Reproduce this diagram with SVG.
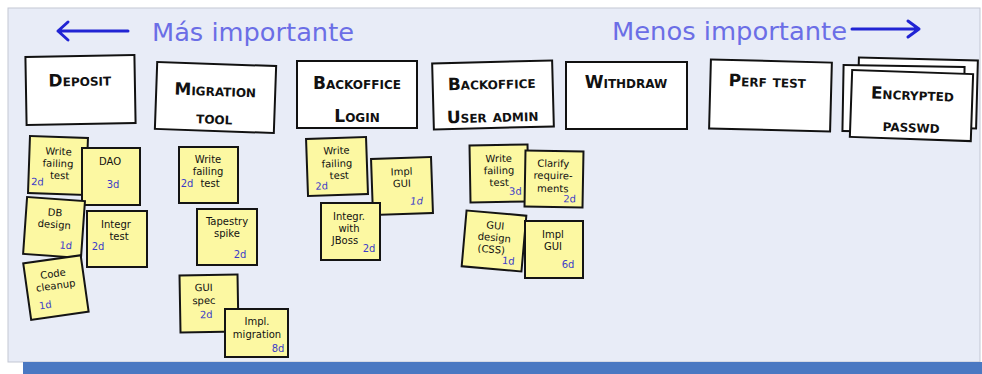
<svg xmlns="http://www.w3.org/2000/svg" width="982" height="374" viewBox="0 0 982 374">
<style>
.panel{fill:#e8ecf7;stroke:#c3c7d3;stroke-width:1}
.bar{fill:#4a78c2}
.card{fill:#ffffff;stroke:#111;stroke-width:2}
.ct{font-family:"DejaVu Sans",sans-serif;font-weight:bold;font-size:17px;font-variant:small-caps;fill:#111;text-anchor:middle}
.head{font-family:"DejaVu Sans",sans-serif;font-size:24px;fill:#6b6ee6}
.arr{fill:none;stroke:#2124d4;stroke-width:3;stroke-linecap:round;stroke-linejoin:round}
.note{fill:#fcf8a2;stroke:#141414;stroke-width:2}
.nt{font-family:"DejaVu Sans",sans-serif;font-size:10px;fill:#111;text-anchor:middle}
.est{font-family:"DejaVu Sans",sans-serif;font-size:10px;fill:#3c3cc8;text-anchor:middle}
</style>
<rect x="0" y="0" width="982" height="374" fill="#ffffff"/>
<rect class="panel" x="8" y="8" width="972" height="354"/>
<rect class="bar" x="23" y="362" width="959" height="12"/>

<g id="header">
<text class="head" x="152" y="41" textLength="202" lengthAdjust="spacingAndGlyphs">Más importante</text>
<text class="head" x="612" y="40" textLength="235" lengthAdjust="spacingAndGlyphs">Menos importante</text>
</g>
<g id="connectors">
<path class="arr" d="M128 31 L58 31 M68 22 L58 31 L68 40"/>
<path class="arr" d="M852 29 L919 29 M908 21 L919 29 L908 37"/>
</g>

<g id="card-deposit" transform="rotate(-1 80 90)">
<rect class="card" x="26" y="56" width="109" height="68"/>
<text class="ct" x="80" y="86">Deposit</text>
</g>
<g id="card-migration" transform="rotate(2 216 98)">
<rect class="card" x="156" y="64" width="119" height="67"/>
<text class="ct" x="215" y="96">Migration</text>
<text class="ct" x="215" y="124">tool</text>
</g>
<g id="card-bo-login">
<rect class="card" x="297" y="61" width="120" height="67"/>
<text class="ct" x="357" y="89">Backoffice</text>
<text class="ct" x="357" y="122">Login</text>
</g>
<g id="card-bo-user" transform="rotate(-1.5 493 95)">
<rect class="card" x="433" y="62" width="120" height="66"/>
<text class="ct" x="492" y="89">Backoffice</text>
<text class="ct" x="492" y="122">User admin</text>
</g>
<g id="card-withdraw">
<rect class="card" x="566" y="62" width="121" height="67"/>
<text class="ct" x="626" y="88">Withdraw</text>
</g>
<g id="card-perf" transform="rotate(1.5 770 95)">
<rect class="card" x="710" y="61" width="121" height="69"/>
<text class="ct" x="767" y="87">Perf test</text>
</g>
<g id="card-encrypted">
<rect class="card" x="858" y="59" width="119" height="68" transform="rotate(1.5 917 93)"/>
<rect class="card" x="843" y="66" width="121" height="66" transform="rotate(1 904 99)"/>
<rect class="card" x="851" y="72" width="121" height="67" transform="rotate(2 911 105)"/>
<text class="ct" x="912" y="100" transform="rotate(2 911 105)">Encrypted</text>
<text class="ct" x="912" y="132" transform="rotate(2 911 105)">passwd</text>
</g>

<g id="note-dep-write" transform="rotate(2 58 165)">
<rect class="note" x="29" y="137" width="58" height="57"/>
<text class="nt" x="58" y="155">Write</text>
<text class="nt" x="58" y="167">failing</text>
<text class="nt" x="60" y="179">test</text>
<text class="est" x="38" y="186">2d</text>
</g>
<g id="note-dep-dao">
<rect class="note" x="82" y="148" width="58" height="57"/>
<text class="nt" x="110" y="165">DAO</text>
<text class="est" x="113" y="188">3d</text>
</g>
<g id="note-dep-db" transform="rotate(4 54 228)">
<rect class="note" x="25" y="199" width="58" height="57"/>
<text class="nt" x="54" y="216">DB</text>
<text class="nt" x="54" y="228">design</text>
<text class="est" x="67" y="248">1d</text>
</g>
<g id="note-dep-integr">
<rect class="note" x="87" y="211" width="60" height="56"/>
<text class="nt" x="116" y="228">Integr</text>
<text class="nt" x="119" y="240">test</text>
<text class="est" x="98" y="250">2d</text>
</g>
<g id="note-dep-code" transform="rotate(-8 56 288)">
<rect class="note" x="27" y="259" width="58" height="57"/>
<text class="nt" x="55" y="277">Code</text>
<text class="nt" x="56" y="289">cleanup</text>
<text class="est" x="43" y="307">1d</text>
</g>

<g id="note-mig-write">
<rect class="note" x="179" y="147" width="59" height="56"/>
<text class="nt" x="208" y="163">Write</text>
<text class="nt" x="208" y="175">failing</text>
<text class="nt" x="210" y="187">test</text>
<text class="est" x="187" y="187">2d</text>
</g>
<g id="note-mig-tapestry">
<rect class="note" x="197" y="209" width="60" height="56"/>
<text class="nt" x="227" y="225">Tapestry</text>
<text class="nt" x="227" y="237">spike</text>
<text class="est" x="240" y="258">2d</text>
</g>
<g id="note-mig-gui" transform="rotate(-1 209 303)">
<rect class="note" x="180" y="275" width="58" height="57"/>
<text class="nt" x="204" y="291">GUI</text>
<text class="nt" x="204" y="304">spec</text>
<text class="est" x="206" y="318">2d</text>
</g>
<g id="note-mig-impl">
<rect class="note" x="225" y="309" width="63" height="48"/>
<text class="nt" x="257" y="325">Impl.</text>
<text class="nt" x="257" y="338">migration</text>
<text class="est" x="278" y="352">8d</text>
</g>

<g id="note-bl-write" transform="rotate(-2 337 166)">
<rect class="note" x="307" y="138" width="60" height="57"/>
<text class="nt" x="337" y="154">Write</text>
<text class="nt" x="337" y="167">failing</text>
<text class="nt" x="339" y="179">test</text>
<text class="est" x="321" y="189">2d</text>
</g>
<g id="note-bl-impl" transform="rotate(-2 402 186)">
<rect class="note" x="372" y="158" width="60" height="56"/>
<text class="nt" x="402" y="175">Impl</text>
<text class="nt" x="402" y="187">GUI</text>
<text class="est" x="416" y="205" font-style="italic">1d</text>
</g>
<g id="note-bl-integr">
<rect class="note" x="321" y="203" width="59" height="57"/>
<text class="nt" x="349" y="220">Integr.</text>
<text class="nt" x="349" y="232">with</text>
<text class="nt" x="345" y="244">JBoss</text>
<text class="est" x="369" y="252">2d</text>
</g>

<g id="note-bua-write" transform="rotate(-1 499 173)">
<rect class="note" x="470" y="145" width="58" height="57"/>
<text class="nt" x="499" y="162">Write</text>
<text class="nt" x="499" y="174">failing</text>
<text class="nt" x="499" y="186">test</text>
<text class="est" x="515" y="195">3d</text>
</g>
<g id="note-bua-clarify" transform="rotate(1 554 179)">
<rect class="note" x="525" y="151" width="58" height="56"/>
<text class="nt" x="553" y="167">Clarify</text>
<text class="nt" x="553" y="179">require-</text>
<text class="nt" x="553" y="192">ments</text>
<text class="est" x="570" y="202">2d</text>
</g>
<g id="note-bua-guidesign" transform="rotate(5 494 241)">
<rect class="note" x="464" y="213" width="60" height="56"/>
<text class="nt" x="494" y="229">GUI</text>
<text class="nt" x="494" y="241">design</text>
<text class="nt" x="492" y="253">(CSS)</text>
<text class="est" x="510" y="263">1d</text>
</g>
<g id="note-bua-impl">
<rect class="note" x="525" y="221" width="58" height="57"/>
<text class="nt" x="553" y="238">Impl</text>
<text class="nt" x="553" y="250">GUI</text>
<text class="est" x="568" y="268">6d</text>
</g>
</svg>
